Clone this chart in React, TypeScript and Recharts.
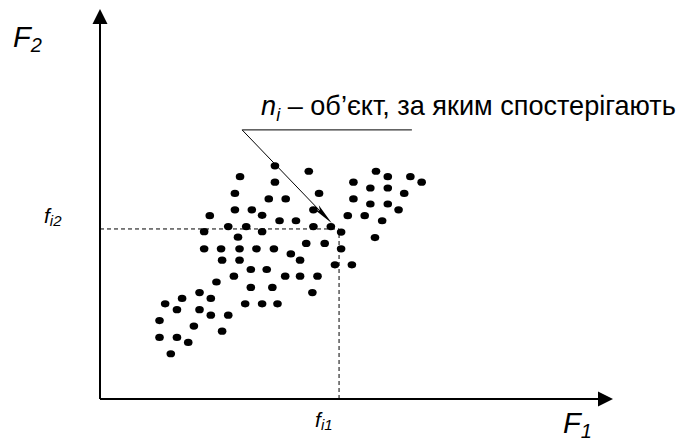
import { ScatterChart, Scatter, XAxis, YAxis, ReferenceLine } from 'recharts';

// observed objects in the (F1, F2) feature plane
const objects: [number, number][] = [
  [34.1, 59.8], [27.3, 57.0], [34.1, 55.6], [26.3, 52.7], [32.9, 51.3], [36.2, 51.3],
  [26.3, 48.5], [29.6, 48.5], [31.6, 47.1], [21.4, 47.0], [35.0, 45.7], [38.2, 45.7],
  [25.0, 44.2], [28.5, 44.2], [20.3, 42.9], [31.6, 42.9], [26.9, 41.5], [20.3, 38.5],
  [23.6, 38.5], [27.2, 38.5], [30.5, 38.5], [33.9, 38.5], [37.2, 37.2], [39.0, 35.6],
  [23.8, 35.6], [27.2, 35.6], [29.4, 33.2], [32.5, 33.2], [26.1, 31.5], [36.1, 31.5],
  [39.0, 31.5], [22.7, 30.0], [29.4, 28.6], [33.6, 28.6], [19.4, 27.3], [16.0, 25.8],
  [21.6, 25.8], [12.7, 24.4], [28.3, 24.4], [31.6, 24.4], [34.6, 24.4], [15.0, 22.9],
  [19.4, 22.9], [21.6, 21.5], [25.0, 21.5], [11.6, 20.1], [18.3, 18.7], [23.8, 17.4],
  [11.6, 15.8], [15.0, 15.8], [17.2, 14.5], [13.8, 11.6],
  [40.7, 58.4], [53.8, 58.4], [56.1, 57.0], [60.5, 57.0], [62.7, 55.6], [49.4, 55.6],
  [52.7, 54.1], [56.1, 54.1], [42.7, 52.7], [59.3, 52.7], [49.4, 51.3], [52.7, 50.0],
  [56.1, 50.0], [41.6, 48.5], [58.2, 48.5], [48.3, 47.0], [51.6, 47.0], [55.0, 45.7],
  [41.6, 44.2], [45.0, 44.2], [47.0, 42.8], [53.6, 41.4], [40.2, 39.9], [43.8, 39.9],
  [47.0, 38.5], [45.8, 34.4], [49.1, 34.4], [42.4, 31.5], [41.4, 27.3],
];

// feature values of the highlighted object n_i
const fi1 = 46.6;
const fi2 = 43.6;

// callout: leader start, underline end, arrow tip
const calloutStart = { x: 27.7, y: 69.0 };
const calloutEnd = { x: 60.8, y: 69.0 };
const calloutTip = { x: 45.2, y: 45.05 };
const calloutText = ' – об’єкт, за яким спостерігають';

const data = objects.map(([x, y]) => ({ x, y }));

const FONT = '"Liberation Sans", Arial, sans-serif';

function ArrowAxis(props: any) {
  const { x1, y1, x2, y2, name, sub, lx, ly } = props;
  const vertical = x1 === x2;
  const head = vertical
    ? `${x2},${y2} ${x2 - 7.5},${y2 + 15} ${x2 + 7.5},${y2 + 15}`
    : `${x2},${y2} ${x2 - 15},${y2 - 7.5} ${x2 - 15},${y2 + 7.5}`;
  const end = vertical ? { x: x2, y: y2 + 14 } : { x: x2 - 14, y: y2 };
  return (
    <g>
      <line x1={x1} y1={y1} x2={end.x} y2={end.y} stroke="#000" strokeWidth={2} />
      <polygon points={head} fill="#000" />
      <text x={x2 + lx} y={y2 + ly} fontFamily={FONT} fontSize={29} fontStyle="italic" fill="#000">
        {name}
        <tspan fontSize={20} dy={5}>{sub}</tspan>
      </text>
    </g>
  );
}

function Guide(props: any) {
  const { x1, y1, x2, y2, sub, lx, ly } = props;
  return (
    <g>
      <line x1={x1} y1={y1} x2={x2} y2={y2} stroke="#000" strokeWidth={1} strokeDasharray="4 3" />
      <text x={x1 + lx} y={y1 + ly} fontFamily={FONT} fontSize={21} fontStyle="italic" fill="#000">
        f
        <tspan fontSize={15} dy={3}>{sub}</tspan>
      </text>
    </g>
  );
}

function Underline(props: any) {
  const { x1, y1, x2, y2 } = props;
  return (
    <g>
      <line x1={x1} y1={y1} x2={x2} y2={y2} stroke="#000" strokeWidth={1} />
      <text x={x1 + 19} y={y1 - 15} fontFamily={FONT} fontSize={27.1} fill="#000">
        <tspan fontStyle="italic">n</tspan>
        <tspan fontStyle="italic" fontSize={18} dy={6}>i</tspan>
        <tspan dy={-6}>{calloutText}</tspan>
      </text>
    </g>
  );
}

function Pointer(props: any) {
  const { x1, y1, x2, y2 } = props;
  const len = Math.hypot(x2 - x1, y2 - y1);
  const ux = (x2 - x1) / len;
  const uy = (y2 - y1) / len;
  const px = -uy;
  const py = ux;
  const bx = x2 - 22 * ux;
  const by = y2 - 22 * uy;
  const nx = x2 - 17 * ux;
  const ny = y2 - 17 * uy;
  const head = `${x2},${y2} ${bx + 3 * px},${by + 3 * py} ${nx},${ny} ${bx - 3 * px},${by - 3 * py}`;
  return (
    <g>
      <line x1={x1} y1={y1} x2={nx} y2={ny} stroke="#000" strokeWidth={1} />
      <polygon points={head} fill="#000" />
    </g>
  );
}

const dot = (p: any) => <ellipse cx={p.cx} cy={p.cy} rx={4.3} ry={3.6} fill="#000" />;

export default function App() {
  return (
    <div style={{ position: 'absolute', left: 0, top: 0, background: '#fff' }}>
      <ScatterChart width={681} height={441} margin={{ top: 9, right: 68, bottom: 42, left: 100 }}>
        <XAxis type="number" dataKey="x" domain={[0, 100]} hide />
        <YAxis type="number" dataKey="y" domain={[0, 100]} hide />
        <ReferenceLine
          segment={[{ x: 0, y: fi2 }, { x: fi1, y: fi2 }]}
          ifOverflow="visible"
          shape={(p: any) => <Guide {...p} sub="i2" lx={-56} ly={-6} />}
        />
        <ReferenceLine
          segment={[{ x: fi1, y: 0 }, { x: fi1, y: fi2 }]}
          ifOverflow="visible"
          shape={(p: any) => <Guide {...p} sub="i1" lx={-24} ly={28} />}
        />
        <ReferenceLine
          segment={[{ x: 0, y: 0 }, { x: 100, y: 0 }]}
          ifOverflow="visible"
          shape={(p: any) => <ArrowAxis {...p} name="F" sub="1" lx={-50} ly={34} />}
        />
        <ReferenceLine
          segment={[{ x: 0, y: 0 }, { x: 0, y: 100 }]}
          ifOverflow="visible"
          shape={(p: any) => <ArrowAxis {...p} name="F" sub="2" lx={-87} ly={38} />}
        />
        <ReferenceLine segment={[calloutStart, calloutEnd]} ifOverflow="visible" shape={(p: any) => <Underline {...p} />} />
        <ReferenceLine segment={[calloutStart, calloutTip]} ifOverflow="visible" shape={(p: any) => <Pointer {...p} />} />
        <Scatter data={data} shape={dot} isAnimationActive={false} />
      </ScatterChart>
    </div>
  );
}
